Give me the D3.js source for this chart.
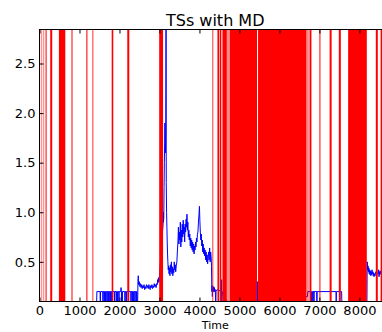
<!DOCTYPE html>
<html>
<head>
<meta charset="utf-8">
<script src="https://cdn.jsdelivr.net/npm/d3@7"></script>
<style>
  body { margin: 0; background: #fff; }
  svg text { font-family: "DejaVu Sans", sans-serif; }
</style>
</head>
<body>
<div id="chart"></div>
<script>
// missing data intervals (time start, time end)
var mdBands = [
  [35, 48], [85, 98], [135, 148], [165, 180], [268, 318], [485, 645],
  [800, 825], [1172, 1198], [1325, 1345], [1805, 1845], [2195, 2245], [2993, 3090],
  [4325, 4345], [4450, 4493], [4508, 4548], [4575, 4685],
  [4692, 4702], [4712, 4722], [4734, 4744], [4755, 5440], [5465, 6672],
  [6675, 6685], [6700, 6712], [6725, 6735], [6752, 6800], [7000, 7025],
  [7255, 7305], [7485, 7535], [7718, 8185], [8410, 8460], [8530, 8580]
];

// time series (time, value)
var tsPoints = [
  [0,0.1],[1430,0.1],[1435,0.2],
  [1515,0.2],[1518,0.1],[1525,0.1],[1528,0.2],
  [1582,0.2],[1585,0.1],[1590,0.1],[1593,0.2],
  [1615,0.2],[1618,0.1],[1622,0.1],[1625,0.2],
  [1648,0.2],[1650,0.1],[1655,0.1],[1658,0.2],
  [1682,0.2],[1685,0.1],[1690,0.1],[1693,0.2],
  [1712,0.2],[1715,0.1],[1720,0.1],[1723,0.2],
  [1735,0.2],[1737,0.1],[1742,0.1],[1745,0.2],
  [1765,0.2],[1768,0.1],[1772,0.1],[1775,0.2],
  [1790,0.2],[1793,0.1],[1798,0.1],[1800,0.2],
  [1870,0.2],[1873,0.1],[1878,0.1],[1880,0.2],
  [1915,0.2],[1918,0.1],[1922,0.1],[1925,0.2],
  [1948,0.2],[1950,0.1],[1955,0.1],[1958,0.2],
  [1983,0.2],[1985,0.1],[1990,0.1],[1993,0.2],
  [2030,0.2],[2040,0.24],[2048,0.2],[2050,0.1],[2055,0.1],[2058,0.2],
  [2066,0.2],[2068,0.1],[2073,0.1],[2075,0.2],
  [2132,0.2],[2135,0.1],[2140,0.1],[2143,0.2],
  [2165,0.2],[2168,0.1],[2173,0.1],[2175,0.2],
  [2282,0.2],[2285,0.1],[2290,0.1],[2293,0.2],
  [2315,0.2],[2318,0.1],[2323,0.1],[2325,0.2],
  [2347,0.2],[2350,0.1],[2355,0.1],[2358,0.2],
  [2382,0.2],[2385,0.1],[2390,0.1],[2393,0.2],
  [2415,0.2],[2418,0.1],[2423,0.1],[2426,0.2],
  [2435,0.2],[2438,0.1],[2455,0.1],
  [2462,0.3],[2470,0.36],[2478,0.27],[2495,0.3],[2510,0.25],[2525,0.28],[2540,0.24],
  [2555,0.27],[2570,0.23],[2585,0.26],[2600,0.24],[2615,0.27],[2630,0.22],[2645,0.25],
  [2660,0.23],[2675,0.27],[2690,0.24],[2705,0.26],[2720,0.23],[2735,0.27],[2750,0.25],
  [2765,0.22],[2780,0.26],[2795,0.24],[2810,0.27],[2825,0.23],[2840,0.26],[2855,0.24],
  [2870,0.28],[2885,0.25],[2900,0.27],[2915,0.24],[2930,0.28],[2945,0.27],[2955,0.32],
  [2965,0.29],[2975,0.34],[2990,0.3],[3040,0.6],
  [3090,0.88],[3095,1.0],[3100,0.9],[3108,0.95],[3115,1.25],[3122,1.5],[3130,1.7],
  [3136,1.9],[3142,1.75],[3150,1.6],[3158,1.85],[3165,3.2],[3170,1.3],[3178,1.0],
  [3186,0.85],[3194,0.7],[3202,0.58],[3210,0.5],[3220,0.42],[3230,0.46],[3240,0.38],
  [3250,0.44],[3262,0.36],[3274,0.47],[3286,0.4],[3298,0.5],[3310,0.38],[3322,0.45],
  [3334,0.36],[3346,0.43],[3358,0.39],[3370,0.5],[3382,0.42],[3394,0.47],[3406,0.4],
  [3420,0.46],[3435,0.5],[3450,0.62],[3462,0.7],[3474,0.85],[3486,0.68],[3498,0.8],
  [3510,0.72],[3522,0.9],[3534,0.65],[3546,0.82],[3558,0.7],[3570,0.88],[3582,0.75],
  [3594,0.92],[3606,0.78],[3618,0.85],[3630,0.7],[3642,0.88],[3654,0.8],[3666,0.93],
  [3678,0.85],[3688,0.98],[3698,0.82],[3710,0.9],[3722,0.75],[3734,0.82],[3746,0.72],
  [3758,0.78],[3770,0.66],[3782,0.74],[3794,0.64],[3806,0.72],[3818,0.62],[3830,0.7],
  [3842,0.6],[3854,0.68],[3866,0.58],[3878,0.66],[3890,0.62],[3902,0.7],[3914,0.65],
  [3926,0.74],[3938,0.7],[3950,0.78],[3962,0.8],[3975,0.9],[3988,0.98],[4000,1.06],
  [4010,0.92],[4022,0.8],[4034,0.72],[4046,0.78],[4058,0.66],[4070,0.72],[4082,0.6],
  [4094,0.68],[4106,0.58],[4118,0.64],[4130,0.56],[4142,0.62],[4155,0.52],[4168,0.6],
  [4180,0.5],[4192,0.57],[4205,0.48],[4218,0.55],[4230,0.6],[4242,0.52],[4255,0.64],
  [4268,0.5],[4280,0.6],[4292,0.55],[4302,0.45],
  [4310,0.2],[4318,0.26],[4322,0.15],[4330,0.22],[4345,0.2],[4355,0.25],[4365,0.2],
  [4375,0.24],[4385,0.2],[4395,0.22],[4405,0.1],[4410,0.1],[4415,0.2],[4440,0.22],
  [4552,0.2],[4555,0.32],[4560,0.1],[4565,0.2],[4600,0.15],[4700,0.1],
  [5450,0.1],[5455,0.3],[5460,0.1],[6700,0.15],[6710,0.2],
  [6790,0.2],[6795,0.1],[6800,0.1],[6805,0.2],
  [6830,0.2],[6833,0.1],[6838,0.1],[6840,0.2],
  [6860,0.2],[6862,0.1],[6866,0.1],[6868,0.2],
  [6932,0.2],[6935,0.1],[6940,0.1],[6943,0.2],
  [7415,0.2],[7418,0.1],[7422,0.1],[7425,0.2],
  [7555,0.2],[7560,0.1],[8188,0.1],
  [8195,0.5],[8205,0.42],[8215,0.46],[8225,0.4],[8235,0.44],[8245,0.38],[8255,0.42],
  [8265,0.37],[8275,0.41],[8285,0.36],[8295,0.4],[8305,0.37],[8315,0.42],[8325,0.38],
  [8335,0.4],[8345,0.36],[8355,0.39],[8365,0.35],[8375,0.38],[8390,0.36],[8410,0.4],
  [8470,0.38],[8480,0.42],[8490,0.35],[8500,0.4],[8510,0.37],[8520,0.41],[8535,0.38],
  [8550,0.4],[8600,0.38]
];

var xTicks = [0, 1000, 2000, 3000, 4000, 5000, 6000, 7000, 8000];
var yTicks = [0.5, 1.0, 1.5, 2.0, 2.5];

var width = 382, height = 332;
var plotLeft = 39.5, plotRight = 391, plotTop = 29.5, plotBottom = 301.5;

var svg = d3.select("#chart").append("svg")
  .attr("width", width)
  .attr("height", height);

svg.append("rect").attr("width", width).attr("height", height).attr("fill", "#fff");

var x = d3.scaleLinear().domain([0, 8790]).range([plotLeft, plotRight]);
var y = d3.scaleLinear().domain([0.1, 2.843]).range([plotBottom, plotTop]);

svg.append("clipPath").attr("id", "plotclip")
  .append("rect")
    .attr("x", plotLeft).attr("y", plotTop)
    .attr("width", plotRight - plotLeft).attr("height", plotBottom - plotTop);

var plot = svg.append("g").attr("clip-path", "url(#plotclip)");

var line = d3.line()
  .x(function(d) { return x(d[0]); })
  .y(function(d) { return y(d[1]); });

plot.append("path")
  .datum(tsPoints)
  .attr("d", line)
  .attr("fill", "none")
  .attr("stroke", "#0000ff")
  .attr("stroke-width", 1);

plot.selectAll(".md")
  .data(mdBands)
  .enter().append("rect")
    .attr("class", "md")
    .attr("x", function(d) { return x(d[0]); })
    .attr("width", function(d) { return x(d[1]) - x(d[0]); })
    .attr("y", plotTop)
    .attr("height", plotBottom - plotTop)
    .attr("fill", "#ff0000");

// frame
svg.append("rect")
  .attr("x", plotLeft).attr("y", plotTop)
  .attr("width", plotRight - plotLeft).attr("height", plotBottom - plotTop)
  .attr("fill", "none")
  .attr("stroke", "#000")
  .attr("stroke-width", 1);

// axes, ticks pointing inward
var xAxis = svg.append("g")
  .attr("transform", "translate(0," + plotBottom + ")")
  .call(d3.axisBottom(x).tickValues(xTicks).tickSize(-4).tickPadding(4).tickFormat(d3.format("d")));
xAxis.select(".domain").remove();

var xTop = svg.append("g")
  .attr("transform", "translate(0," + plotTop + ")")
  .call(d3.axisTop(x).tickValues(xTicks).tickSize(-4).tickFormat(""));
xTop.select(".domain").remove();

var yAxis = svg.append("g")
  .attr("transform", "translate(" + plotLeft + ",0)")
  .call(d3.axisLeft(y).tickValues(yTicks).tickSize(-4).tickPadding(4).tickFormat(d3.format(".1f")));
yAxis.select(".domain").remove();

var yRight = svg.append("g")
  .attr("transform", "translate(" + plotRight + ",0)")
  .call(d3.axisRight(y).tickValues(yTicks).tickSize(-4).tickFormat(""));
yRight.select(".domain").remove();

svg.selectAll(".tick text")
  .style("font-family", "DejaVu Sans")
  .style("font-size", "13px")
  .attr("fill", "#000");
svg.selectAll(".tick line").attr("stroke", "#000");

svg.append("text")
  .attr("x", (plotLeft + plotRight) / 2)
  .attr("y", 26)
  .attr("text-anchor", "middle")
  .style("font-size", "16px")
  .text("TSs with MD");

svg.append("text")
  .attr("x", (plotLeft + plotRight) / 2)
  .attr("y", 329)
  .attr("text-anchor", "middle")
  .style("font-size", "11px")
  .text("Time");
</script>
</body>
</html>
